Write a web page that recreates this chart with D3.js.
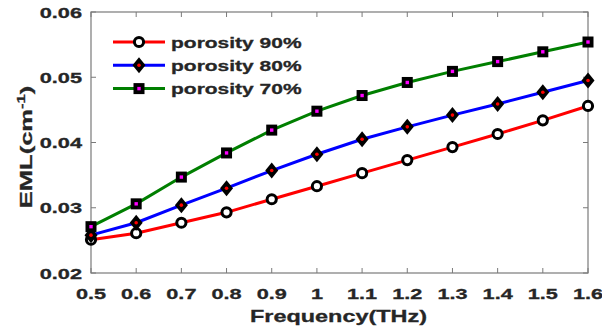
<!DOCTYPE html>
<html>
<head>
<meta charset="utf-8">
<script src="https://cdn.jsdelivr.net/npm/d3@7"></script>
<style>
body { margin: 0; background: #fff; }
text { font-family: "Liberation Sans", Arial, sans-serif; font-weight: bold; fill: #262626; stroke: #262626; stroke-width: 0.3px; }
</style>
</head>
<body>
<div id="chart"></div>
<script>
// values
const freq = [0.5, 0.6, 0.7, 0.8, 0.9, 1.0, 1.1, 1.2, 1.3, 1.4, 1.5, 1.6];
const eml90 = [0.0251, 0.0261, 0.0277, 0.0293, 0.0313, 0.0333, 0.0353, 0.0373, 0.0393, 0.0413, 0.0434, 0.0456];
const eml80 = [0.0258, 0.0277, 0.0304, 0.0330, 0.0357, 0.0382, 0.0405, 0.0424, 0.0442, 0.0459, 0.0477, 0.0495];
const eml70 = [0.0271, 0.0306, 0.0347, 0.0384, 0.0419, 0.0448, 0.0472, 0.0492, 0.0509, 0.0524, 0.0539, 0.0554];
const xTicks = [0.5, 0.6, 0.7, 0.8, 0.9, 1, 1.1, 1.2, 1.3, 1.4, 1.5, 1.6];
const yTicks = [0.02, 0.03, 0.04, 0.05, 0.06];
const legendNames = ["porosity 90%", "porosity 80%", "porosity 70%"];

const W = 602, H = 332;
const mLeft = 91, mRight = 588, mTop = 12, mBottom = 273;
const stretch = 1.4; // text in the figure is drawn wide

const svg = d3.select("#chart").append("svg")
  .attr("width", W)
  .attr("height", H);

const x = d3.scaleLinear().domain([0.5, 1.6]).range([mLeft, mRight]);
const y = d3.scaleLinear().domain([0.02, 0.06]).range([mBottom, mTop]);

// box + inward ticks
const axisCol = "#7a7a7a";
svg.append("rect")
  .attr("x", mLeft).attr("y", mTop)
  .attr("width", mRight - mLeft).attr("height", mBottom - mTop)
  .attr("fill", "none").attr("stroke", axisCol).attr("stroke-width", 1.2);

xTicks.forEach(function(t) {
  svg.append("line").attr("x1", x(t)).attr("x2", x(t)).attr("y1", mBottom).attr("y2", mBottom - 5).attr("stroke", axisCol);
  svg.append("line").attr("x1", x(t)).attr("x2", x(t)).attr("y1", mTop).attr("y2", mTop + 5).attr("stroke", axisCol);
  svg.append("text")
    .attr("transform", "translate(" + x(t) + "," + 298.5 + ") scale(" + stretch + ",1)")
    .attr("text-anchor", "middle")
    .style("font-size", "15.5px")
    .text(String(t));
});

yTicks.forEach(function(t) {
  svg.append("line").attr("x1", mLeft).attr("x2", mLeft + 5).attr("y1", y(t)).attr("y2", y(t)).attr("stroke", axisCol);
  svg.append("line").attr("x1", mRight).attr("x2", mRight - 5).attr("y1", y(t)).attr("y2", y(t)).attr("stroke", axisCol);
  svg.append("text")
    .attr("transform", "translate(" + 82 + "," + (y(t) + 5.5) + ") scale(1.45,1)")
    .attr("text-anchor", "end")
    .style("font-size", "15px")
    .text(t.toFixed(2));
});

// axis titles
svg.append("text")
  .attr("transform", "translate(338.5,322) scale(1.42,1)")
  .attr("text-anchor", "middle")
  .style("font-size", "16.5px")
  .text("Frequency(THz)");

const yl = svg.append("text")
  .attr("transform", "translate(32,147) rotate(-90) scale(1.5,1)")
  .attr("text-anchor", "middle")
  .style("font-size", "17px");
yl.append("tspan").text("EML(cm");
yl.append("tspan").attr("dy", -7).style("font-size", "11px").text("-1");
yl.append("tspan").attr("dy", 7).text(")");

// series
const series = [
  { name: legendNames[0], vals: eml90, color: "#ff0000", marker: "circle" },
  { name: legendNames[1], vals: eml80, color: "#0000ff", marker: "diamond" },
  { name: legendNames[2], vals: eml70, color: "#007f00", marker: "square" }
];

function drawMarker(g, kind, cx, cy) {
  if (kind === "circle") {
    g.append("circle").attr("cx", cx).attr("cy", cy).attr("r", 4.6)
      .attr("fill", "#fff").attr("stroke", "#000").attr("stroke-width", 3);
  } else if (kind === "diamond") {
    g.append("path")
      .attr("d", "M" + cx + "," + (cy - 8) + "L" + (cx + 6.5) + "," + cy + "L" + cx + "," + (cy + 8) + "L" + (cx - 6.5) + "," + cy + "Z")
      .attr("fill", "#000");
    g.append("circle").attr("cx", cx).attr("cy", cy).attr("r", 1.8).attr("fill", "#ff0000");
  } else {
    g.append("rect").attr("x", cx - 5.5).attr("y", cy - 5.5).attr("width", 11).attr("height", 11)
      .attr("fill", "#000");
    g.append("rect").attr("x", cx - 1.7).attr("y", cy - 1.7).attr("width", 3.4).attr("height", 3.4)
      .attr("fill", "#ff00ff");
  }
}

const line = d3.line()
  .x(function(d) { return x(d[0]); })
  .y(function(d) { return y(d[1]); });

series.forEach(function(s) {
  const pts = freq.map(function(f, i) { return [f, s.vals[i]]; });
  svg.append("path")
    .attr("d", line(pts))
    .attr("fill", "none")
    .attr("stroke", s.color)
    .attr("stroke-width", 3);
  const g = svg.append("g");
  pts.forEach(function(p) { drawMarker(g, s.marker, x(p[0]), y(p[1])); });
});

// legend
series.forEach(function(s, i) {
  const ly = 42 + i * 23.3;
  svg.append("line")
    .attr("x1", 113).attr("x2", 165).attr("y1", ly).attr("y2", ly)
    .attr("stroke", s.color).attr("stroke-width", 3);
  drawMarker(svg.append("g"), s.marker, 139, ly);
  svg.append("text")
    .attr("transform", "translate(171," + (ly + 5.5) + ") scale(" + stretch + ",1)")
    .style("font-size", "15px")
    .text(s.name);
});
</script>
</body>
</html>
